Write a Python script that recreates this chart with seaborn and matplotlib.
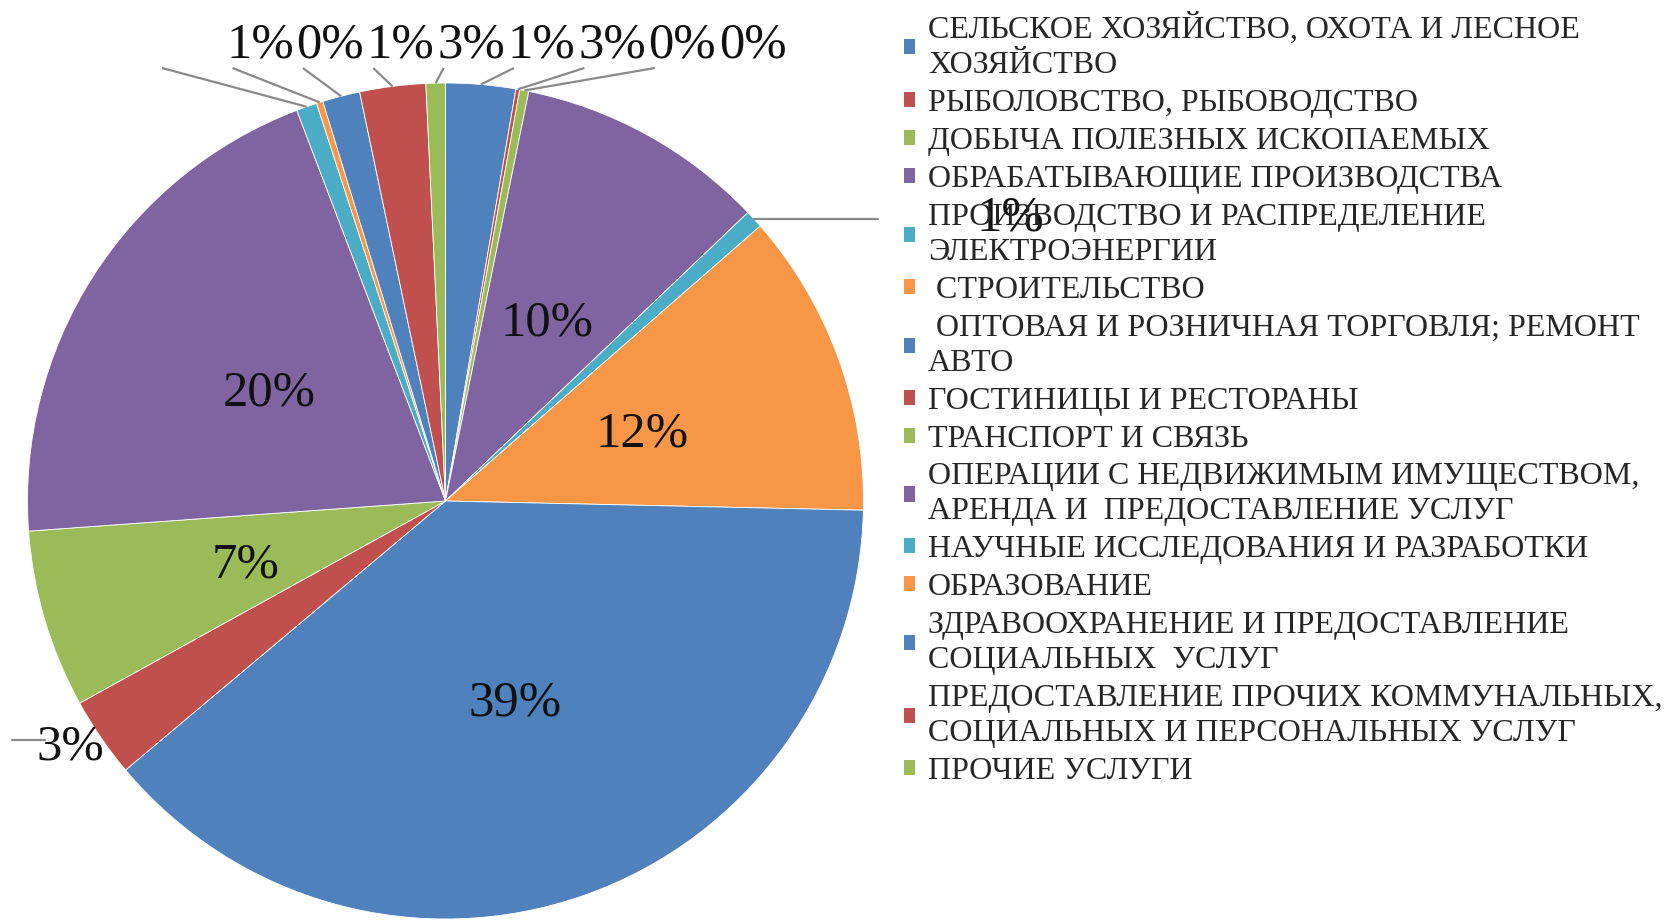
import matplotlib
matplotlib.use("Agg")
import matplotlib.pyplot as plt
import seaborn as sns
import numpy as np

# ---------------- data ----------------
categories = [
    "СЕЛЬСКОЕ ХОЗЯЙСТВО, ОХОТА И ЛЕСНОЕ\nХОЗЯЙСТВО",
    "РЫБОЛОВСТВО, РЫБОВОДСТВО",
    "ДОБЫЧА ПОЛЕЗНЫХ ИСКОПАЕМЫХ",
    "ОБРАБАТЫВАЮЩИЕ ПРОИЗВОДСТВА",
    "ПРОИЗВОДСТВО И РАСПРЕДЕЛЕНИЕ\nЭЛЕКТРОЭНЕРГИИ",
    " СТРОИТЕЛЬСТВО",
    " ОПТОВАЯ И РОЗНИЧНАЯ ТОРГОВЛЯ; РЕМОНТ\nАВТО",
    "ГОСТИНИЦЫ И РЕСТОРАНЫ",
    "ТРАНСПОРТ И СВЯЗЬ",
    "ОПЕРАЦИИ С НЕДВИЖИМЫМ ИМУЩЕСТВОМ,\nАРЕНДА И  ПРЕДОСТАВЛЕНИЕ УСЛУГ",
    "НАУЧНЫЕ ИССЛЕДОВАНИЯ И РАЗРАБОТКИ",
    "ОБРАЗОВАНИЕ",
    "ЗДРАВООХРАНЕНИЕ И ПРЕДОСТАВЛЕНИЕ\nСОЦИАЛЬНЫХ  УСЛУГ",
    "ПРЕДОСТАВЛЕНИЕ ПРОЧИХ КОММУНАЛЬНЫХ,\nСОЦИАЛЬНЫХ И ПЕРСОНАЛЬНЫХ УСЛУГ",
    "ПРОЧИЕ УСЛУГИ",
]
values = [2.7, 0.15, 0.35, 9.7, 0.7, 11.8, 38.6, 3.1, 6.9, 20.4,
          0.8, 0.25, 1.45, 2.55, 0.75]
base_colors = ["#4F81BD", "#C0504D", "#9BBB59", "#8064A2", "#4BACC6", "#F79646"]

# label placement groups (indices into the data)
inside_idx = [3, 5, 6, 8, 9]
top_idx = [10, 11, 12, 13, 14, 0, 1, 2]
right_idx = 4
left_idx = 7

# ---------------- style ----------------
sns.set_theme(style="white")
plt.rcParams["font.family"] = ["Liberation Serif", "DejaVu Serif"]

W, H = 1681, 921
fig = plt.figure(figsize=(W / 100, H / 100), dpi=100)
CX, CY, R = 445.5, 501.0, 418.0
ax = fig.add_axes([(CX - R) / W, (H - CY - R) / H, 2 * R / W, 2 * R / H])

palette = sns.color_palette(base_colors)
cols = [palette[i % len(palette)] for i in range(len(values))]

wedges, _ = ax.pie(values, colors=cols, startangle=90, counterclock=False,
                   radius=1, wedgeprops=dict(edgecolor="white", linewidth=0.6))
ax.set_xlim(-1, 1)
ax.set_ylim(-1, 1)
ax.set_aspect("equal")
ax.axis("off")

total = float(sum(values))
pct = [f"{round(v / total * 100)}%" for v in values]

LBL_FS = 36.5
LEAD_C = "#8a8a8a"
LEAD_W = 1.6
HALF_DIGIT = 17.0  # px from visual centre of digits to baseline


def px(x, y):
    return (x - CX) / R, (CY - y) / R


def mid_dir(w):
    a = np.deg2rad((w.theta1 + w.theta2) / 2.0)
    return np.cos(a), np.sin(a)


def put_label(xc, yc, s, z=3):
    x, y = px(xc, yc + HALF_DIGIT)
    ax.text(x, y, s, ha="center", va="baseline", fontsize=LBL_FS,
            color="#111111", zorder=z, clip_on=False)


# inside labels
for i in inside_idx:
    dx, dy = mid_dir(wedges[i])
    put_label(CX + 0.5 * R * dx, CY - 0.5 * R * dy, pct[i])

# top labels with leader lines
for k, i in enumerate(top_idx):
    cxl = 260 + 70.4 * k
    put_label(cxl, 41, pct[i])
    dx, dy = mid_dir(wedges[i])
    ex, ey = px(cxl - 98, 68)
    ax.plot([dx, ex], [dy, ey], color=LEAD_C, lw=LEAD_W, clip_on=False,
            solid_capstyle="butt", zorder=2)

# right label
dx, dy = mid_dir(wedges[right_idx])
ex, _ = px(878, 0)
ax.plot([dx, ex], [dy, dy], color=LEAD_C, lw=LEAD_W, clip_on=False, zorder=2)
put_label(1010, 214, pct[right_idx], z=1)

# left label
x1, y1 = px(12, 740)
x2, _ = px(45, 740)
ax.plot([x1, x2], [y1, y1], color=LEAD_C, lw=LEAD_W, clip_on=False, zorder=2)
put_label(70, 742, pct[left_idx])

# legend
leg = ax.legend(wedges, categories, loc="upper left",
                bbox_to_anchor=(904 / W, 1 - 13 / H), bbox_transform=fig.transFigure,
                frameon=False, fontsize=23, handlelength=0.35, handleheight=0.35,
                handletextpad=0.4, labelspacing=0.28, borderpad=0, borderaxespad=0)
leg.set_zorder(5)
for t in leg.get_texts():
    t.set_linespacing(1.27)
for h in leg.legend_handles:
    h.set_edgecolor("none")

fig.savefig("out.png", dpi=100)
